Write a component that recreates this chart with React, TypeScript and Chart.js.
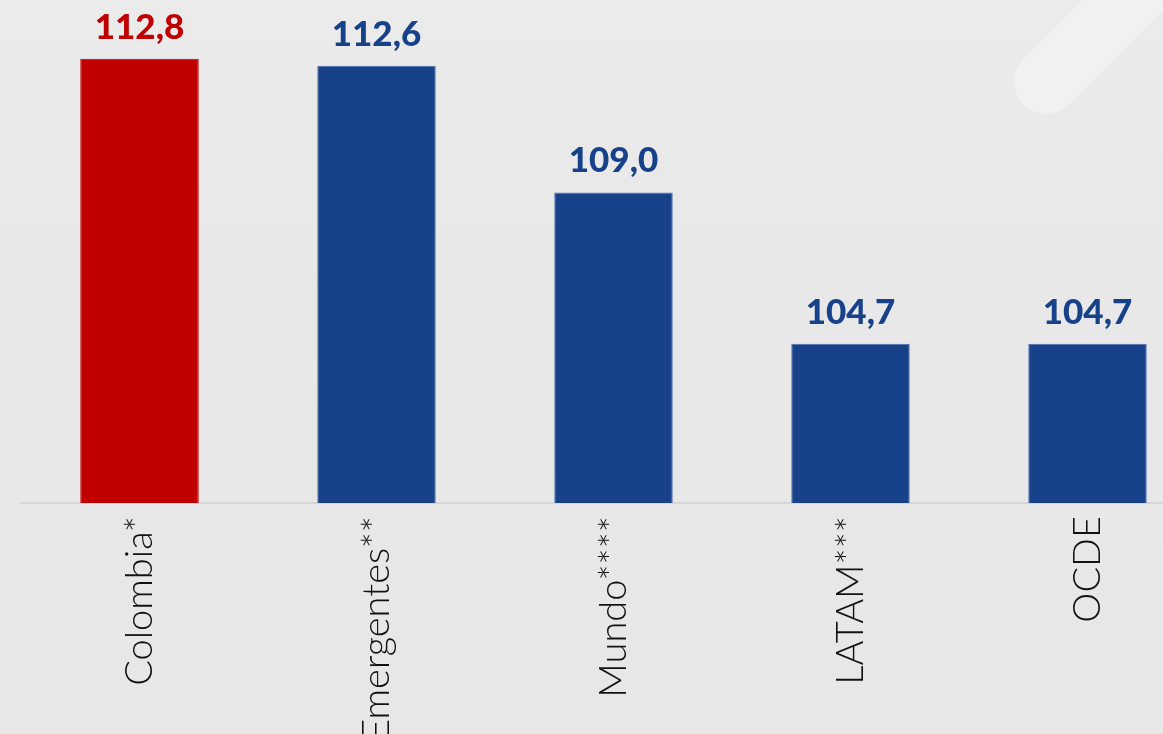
import React, { useEffect, useRef } from "react";
import { Chart, registerables } from "chart.js";

Chart.register(...registerables);

const categories = ["Colombia*", "Emergentes**", "Mundo****", "LATAM***", "OCDE"];
const values = [112.8, 112.6, 109.0, 104.7, 104.7];
const valueLabels = ["112,8", "112,6", "109,0", "104,7", "104,7"];
const barColors = ["#c00000", "#17428a", "#17428a", "#17428a", "#17428a"];

const bgPlugin = {
  id: "bg",
  beforeDraw(chart: any) {
    const { ctx, width, height } = chart;
    ctx.save();
    const g = ctx.createLinearGradient(0, 0, 0, height);
    g.addColorStop(0, "#ebebec");
    g.addColorStop(0.4, "#e8e8e9");
    g.addColorStop(1, "#e7e7e7");
    ctx.fillStyle = g;
    ctx.fillRect(0, 0, width, height);
    ctx.strokeStyle = "rgba(245,245,247,0.55)";
    ctx.lineWidth = 64;
    ctx.lineCap = "round";
    ctx.beginPath();
    ctx.moveTo(1046, 82);
    ctx.lineTo(1200, -72);
    ctx.stroke();
    ctx.restore();
  },
};

const valuePlugin = {
  id: "vals",
  afterDatasetsDraw(chart: any) {
    const { ctx } = chart;
    const meta = chart.getDatasetMeta(0);
    ctx.save();
    ctx.font = "900 35px Lato, 'Open Sans', sans-serif";
    ctx.textAlign = "center";
    ctx.textBaseline = "alphabetic";
    meta.data.forEach((bar: any, i: number) => {
      ctx.fillStyle = barColors[i];
      ctx.fillText(valueLabels[i], bar.x, bar.y - 20);
    });
    ctx.restore();
  },
};

export default function App() {
  const ref = useRef<HTMLCanvasElement>(null);
  useEffect(() => {
    document.body.style.margin = "0";
    document.body.style.overflow = "hidden";
    const chart = new Chart(ref.current!, {
      type: "bar",
      data: {
        labels: categories,
        datasets: [
          {
            data: values,
            backgroundColor: barColors,
            borderColor: ["#c00000", "#4f6fae", "#4f6fae", "#4f6fae", "#4f6fae"],
            borderWidth: 1,
            barPercentage: 0.5,
            categoryPercentage: 1,
          },
        ],
      },
      options: {
        animation: false,
        responsive: false,
        maintainAspectRatio: false,
        layout: { padding: { left: 21, right: 4, top: 0, bottom: 0 } },
        plugins: { legend: { display: false }, tooltip: { enabled: false } },
        scales: {
          x: {
            grid: { display: false, drawTicks: false },
            border: { display: true, color: "#d6d6d6", width: 2 },
            ticks: {
              minRotation: 90,
              maxRotation: 90,
              padding: 13,
              color: "#111",
              font: { family: "Lato, 'Open Sans', sans-serif", size: 38, weight: "300" as any },
            },
            afterFit(scale: any) {
              scale.height = 231;
            },
          },
          y: {
            display: false,
            min: 100.17,
            max: 114.47,
          },
        },
      },
      plugins: [bgPlugin, valuePlugin],
    });
    return () => chart.destroy();
  }, []);
  return (
    <div style={{ position: "fixed", left: 0, top: 0, width: 1163, height: 734, overflow: "hidden" }}>
      <canvas ref={ref} width={1210} height={734} style={{ width: 1210, height: 734, display: "block" }} />
    </div>
  );
}
